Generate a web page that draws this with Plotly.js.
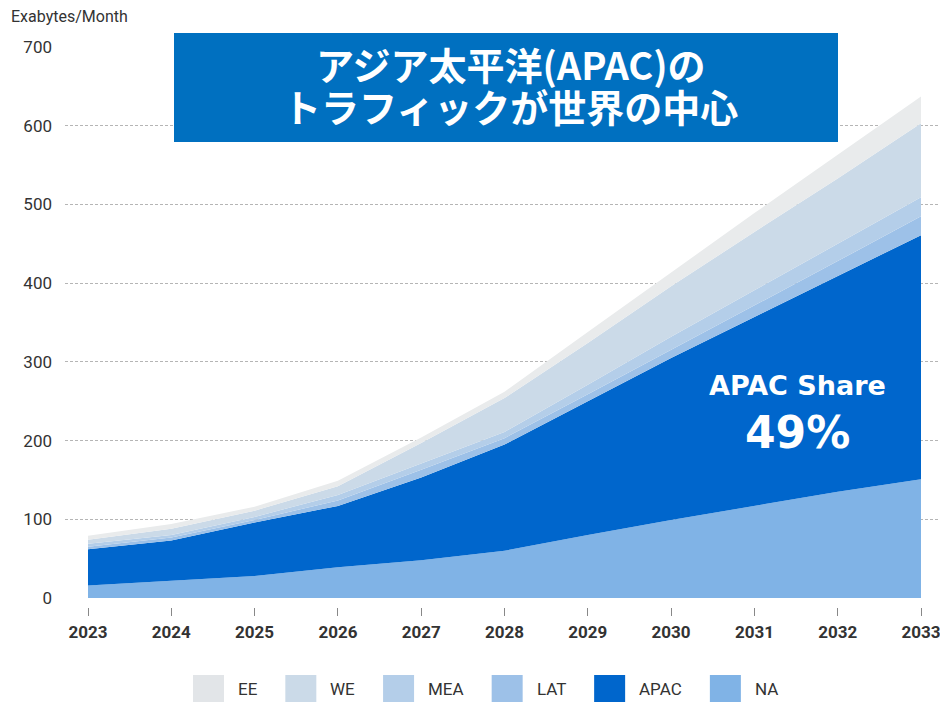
<!DOCTYPE html>
<html>
<head>
<meta charset="utf-8">
<script src="https://cdn.plot.ly/plotly-3.0.1.min.js"></script>
<style>
html,body{margin:0;padding:0;background:#fff;}
#chart{width:940px;height:703px;}
</style>
</head>
<body>
<div id="chart"></div>
<script>
// ---- data ----
const years = [2023, 2024, 2025, 2026, 2027, 2028, 2029, 2030, 2031, 2032, 2033];
const naVals   = [16, 22, 28, 39, 48, 60, 80, 99, 117, 135, 151];
const apacVals = [46, 51, 68, 78, 105, 135, 170, 206, 240, 274, 310];
const latVals  = [3, 4, 3, 7, 10, 8, 9, 10, 15, 19, 24];
const meaVals  = [4, 3, 4, 7, 8, 8, 12, 17, 19, 22, 24];
const weVals   = [5, 8, 8, 11, 26, 43, 53, 64, 74, 83, 94];
const eeVals   = [5, 6, 5, 7, 7, 8, 14, 18, 24, 30, 34];
const seriesNames = ["NA", "APAC", "LAT", "MEA", "WE", "EE"];
const yTicks = [0, 100, 200, 300, 400, 500, 600, 700];
const yTitle = "Exabytes/Month";
const titleLine1 = "アジア太平洋(APAC)の";
const titleLine2 = "トラフィックが世界の中心";
const calloutLine1 = "APAC Share";
const calloutLine2 = "49%";

// ---- styles ----
const colors = {NA:"#80b3e6", APAC:"#0066cc", LAT:"#9dc1e8", MEA:"#b4cee9", WE:"#cbdae8", EE:"#e9ebec"};
const legendSwatch = {NA:"#80b3e6", APAC:"#0066cc", LAT:"#9dc1e8", MEA:"#b4cee9", WE:"#cbdae8", EE:"#e2e5e8"};
const baseFont = "Roboto";
const W = 940, H = 703;
const M = {l:65, r:0, t:47, b:96};
const PW = W - M.l - M.r, PH = H - M.t - M.b;
const px = x => (x - M.l) / PW;          // pixel -> paper x
const py = y => (H - M.b - y) / PH;      // pixel -> paper y

const valuesBy = {NA:naVals, APAC:apacVals, LAT:latVals, MEA:meaVals, WE:weVals, EE:eeVals};
const traces = seriesNames.map(n => ({
  type:"scatter", mode:"lines", x:years, y:valuesBy[n], name:n,
  stackgroup:"one", line:{width:0, color:colors[n]}, fillcolor:colors[n],
  hoverinfo:"skip", showlegend:false
}));

// ---- custom legend (square swatches) ----
const legendOrder = ["EE", "WE", "MEA", "LAT", "APAC", "NA"];
const legendSize = 17;
const cv = document.createElement("canvas").getContext("2d");
cv.font = legendSize + "px " + baseFont;
const shapes = [];
const annotations = [];
let lx = 193;
const swW = 31, swTop = 675, swBot = 702, legY = 689;
legendOrder.forEach(n => {
  shapes.push({type:"rect", xref:"paper", yref:"paper", x0:px(lx), x1:px(lx+swW), y0:py(swBot), y1:py(swTop),
    fillcolor:legendSwatch[n], line:{width:0}, layer:"above"});
  annotations.push({xref:"paper", yref:"paper", x:px(lx+43), y:py(legY), xanchor:"left", yanchor:"middle",
    text:n, showarrow:false, font:{family:baseFont, size:legendSize, color:"#333"}});
  lx += 43 + cv.measureText(n).width + 30;
});

// ---- title box ----
shapes.push({type:"rect", xref:"paper", yref:"paper", x0:px(174), x1:px(838), y0:py(142), y1:py(33),
  fillcolor:"#0070c0", line:{width:0}, layer:"above"});
annotations.push({xref:"paper", yref:"paper", x:px(511), y:py(63), xanchor:"center", yanchor:"middle",
  text:"<b>"+titleLine1+"</b>", showarrow:false, align:"center",
  font:{family:"Noto Sans CJK JP", size:38, color:"#fff"}});
annotations.push({xref:"paper", yref:"paper", x:px(510), y:py(106), xanchor:"center", yanchor:"middle",
  text:"<b>"+titleLine2+"</b>", showarrow:false, align:"center",
  font:{family:"Noto Sans CJK JP", size:38, color:"#fff"}});

// ---- callout ----
annotations.push({xref:"paper", yref:"paper", x:px(797), y:py(385), xanchor:"center", yanchor:"middle",
  text:"<b>"+calloutLine1+"</b>", showarrow:false, font:{family:"DejaVu Sans", size:27, color:"#fff"}});
annotations.push({xref:"paper", yref:"paper", x:px(797), y:py(432), xanchor:"center", yanchor:"middle",
  text:"<b>"+calloutLine2+"</b>", showarrow:false, font:{family:"DejaVu Sans", size:44, color:"#fff"}});

// ---- y axis title ----
annotations.push({xref:"paper", yref:"paper", x:px(9), y:py(17), xanchor:"left", yanchor:"middle",
  text:yTitle, showarrow:false, font:{family:baseFont, size:16, color:"#333"}});

const layout = {
  width:W, height:H, margin:M, paper_bgcolor:"#fff", plot_bgcolor:"#fff",
  showlegend:false,
  xaxis:{
    range:[2023 - (88-65)/83.3, 2033 + (940-921)/83.3], anchor:"free", position:0,
    tickmode:"array", tickvals:years, ticktext:years.map(String),
    ticks:"outside", ticklen:8, tickcolor:"#888", tickwidth:1, ticklabelstandoff:2,
    ticklabeloverflow:"allow",
    showgrid:false, zeroline:false, showline:false,
    tickfont:{family:baseFont, size:17, color:"#333", weight:"bold"}
  },
  yaxis:{
    range:[0, 700], domain:[9/PH, 1],
    tickmode:"array", tickvals:yTicks,
    showgrid:true, gridcolor:"#b5b5b5", gridwidth:1, griddash:"3px,2px",
    zeroline:false, showline:false, ticks:"", ticklabelstandoff:12,
    tickfont:{family:baseFont, size:17, color:"#333"}
  },
  shapes:shapes, annotations:annotations
};

Plotly.newPlot("chart", traces, layout, {staticPlot:true, displayModeBar:false});
</script>
</body>
</html>
